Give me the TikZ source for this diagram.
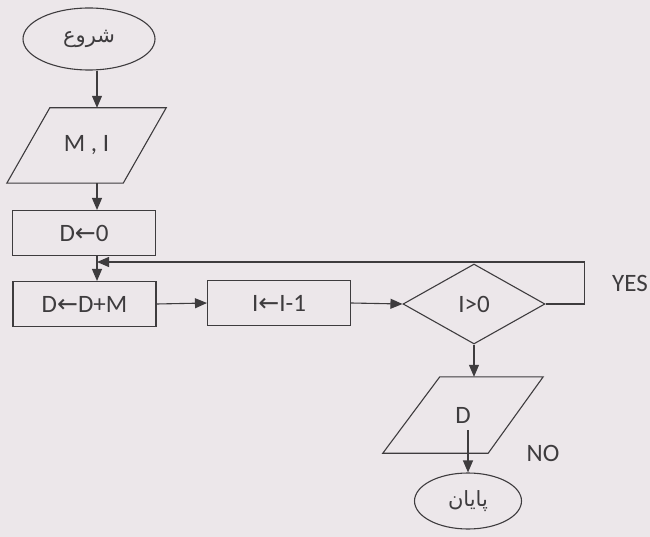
\documentclass[tikz,border=0pt]{standalone}
\usepackage{fontspec}
\setmainfont{Carlito}
\newfontfamily\arabicfont[Script=Arabic]{DejaVu Sans}
\newfontfamily\symbfont{DejaVu Sans}
\TeXXeTstate=1
\usetikzlibrary{positioning,shapes.geometric,arrows.meta,calc}

\definecolor{paper}{RGB}{236,231,234}
\definecolor{ink}{RGB}{62,60,62}
\newcommand{\larrow}{{\symbfont ←}}

\tikzset{
  flow/.style={draw=ink, line width=1.1pt, text=ink, font=\fontsize{25}{28}\selectfont},
  terminal/.style={flow, ellipse, minimum width=#1, inner sep=0pt},
  io/.style={rectangle, text=ink, font=\fontsize{25}{28}\selectfont, minimum width=159pt, minimum height=75pt},
  process/.style={flow, rectangle, minimum width=143pt, minimum height=45pt},
  decision/.style={flow, diamond, aspect=1.75, minimum width=142pt, minimum height=80pt, inner sep=0pt},
  arr/.style={draw=ink, line width=1.1pt, -{Triangle[length=12pt,width=10pt]}},
  lbl/.style={text=ink, font=\fontsize{25}{28}\selectfont},
  arab/.style={font=\arabicfont\fontsize{21}{24}\selectfont},
}

\begin{document}
\begin{tikzpicture}[x=1pt,y=-1pt]
    % paper
    \fill[paper] (0,0) rectangle (650,537);
    \useasboundingbox (0,0) rectangle (650,537);

    % left column
    \coordinate (axis) at (97,0);
    \node[terminal=132pt, minimum height=62pt, arab] (start) at (89,39) {\beginR شروع\endR};
    \node[io] (input) at (86.5,145.5) {M , I};
    \draw[flow] (input.south west) -- ($(input.north west)+(43,0)$)
      -- (input.north east) -- ($(input.south east)-(43,0)$) -- cycle;
    \node[process] (init) at (84,233) {D\larrow0};
    \node[process] (accum) at (84.5,304) {D\larrow D+M};

    % row
    \node[process] (decr) at (279,303) {I\larrow I-1};
    \node[decision] (test) at (474,304) {I>0};

    % output and end
    \node[io, minimum width=160pt, minimum height=76pt] (dout) at (463,415) {D};
    \draw[flow] (dout.south west) -- ($(dout.north west)+(57,0)$)
      -- (dout.north east) -- ($(dout.south east)-(55,0)$) -- cycle;
    \node[terminal=107pt, minimum height=56pt, arab] (stop) at (468,501) {\beginR پایان\endR};

    % labels
    \node[lbl] (yes) at (630,283) {YES};
    \node[lbl] (no) at (543,453) {NO};

    % connectors
    \coordinate (merge) at (97,262);
    \draw[arr] (start.south -| axis) -- (input.north -| axis);
    \draw[arr] (input.south -| axis) -- (init.north -| axis);
    \draw[arr] (init.south -| axis) -- (accum.north -| axis);
    \draw[arr] (accum.east) -- (decr.west);
    \draw[arr] (decr.east) -- (test.west);
    \draw[arr] (test.east) -- ++(39,0) |- (merge);
    \draw[arr] (test.south) -- (test.south |- dout.north);
    \draw[arr, shorten <=15pt] (stop.north |- dout.center) -- (stop.north);
\end{tikzpicture}
\end{document}
